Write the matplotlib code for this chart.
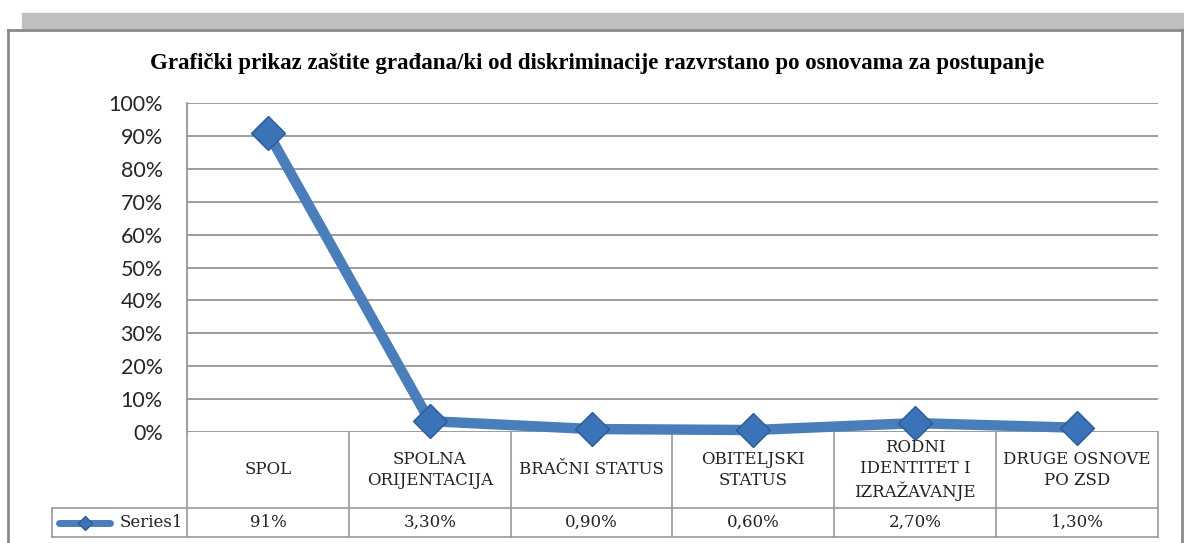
import numpy as np
import matplotlib.pyplot as plt
from matplotlib.lines import Line2D
from matplotlib.patches import Rectangle

# data
categories = ["SPOL", "SPOLNA\nORIJENTACIJA", "BRAČNI STATUS", "OBITELJSKI\nSTATUS",
              "RODNI\nIDENTITET I\nIZRAŽAVANJE", "DRUGE OSNOVE\nPO ZSD"]
values = [0.91, 0.033, 0.009, 0.006, 0.027, 0.013]
value_labels = ["91%", "3,30%", "0,90%", "0,60%", "2,70%", "1,30%"]
series_name = "Series1"
title = "Grafički prikaz zaštite građana/ki od diskriminacije razvrstano po osnovama za postupanje"

W, H = 1184, 543
fig = plt.figure(figsize=(W / 100, H / 100), dpi=100)

def fx(px):
    return px / W

def fy(py):
    return 1 - py / H

# outer frame (gray bar + border)
fig.patches.append(Rectangle((fx(22), fy(30)), fx(1184) - fx(22), fy(13) - fy(30),
                             transform=fig.transFigure, color="#bfbfbf", zorder=0))
frame_col = "#8a8a8a"
for xs, ys in [((8, 8), (30, 543)), ((8, 1183), (30, 30)), ((1182, 1182), (30, 543))]:
    fig.add_artist(Line2D([fx(x) for x in xs], [fy(y) for y in ys], color=frame_col, lw=2,
                          transform=fig.transFigure))

fig.text(fx(597), fy(63), title, ha="center", va="center", fontsize=16.5,
         fontweight="bold", family="Liberation Serif")

# plot area
ax = fig.add_axes([fx(187), fy(432), fx(1158) - fx(187), fy(103) - fy(432)])
x = np.arange(len(categories))
ax.set_xlim(-0.5, len(categories) - 0.5)
ax.set_ylim(0, 1)
ax.set_yticks(np.arange(0, 1.01, 0.1))
ax.set_yticklabels([f"{int(round(t * 100))}%" for t in np.arange(0, 1.01, 0.1)],
                   family="Lato", fontsize=15.5, color="#262626")
ax.tick_params(axis="y", length=0, pad=17.5)
ax.set_xticks([])
ax.grid(axis="y", color="#8c8c8c", lw=1.2)
for s in ["top", "right", "bottom"]:
    ax.spines[s].set_visible(False)
ax.spines["left"].set_color("#8c8c8c")
ax.spines["left"].set_linewidth(1.2)

line_col = "#4a7ebb"
ax.plot(x, values, color=line_col, lw=7.5, solid_capstyle="butt", zorder=3, clip_on=False)
ax.plot(x, values, ls="none", marker="D", ms=17, mfc="#3b73b9", mec="#2b5b97", mew=1,
        zorder=4, clip_on=False)

# data table under the plot
tr = ax.get_xaxis_transform()
grid_col = "#9a9a9a"
unit = 971 / 6
row1 = -76 / 329
row2 = -105 / 329
key_left = -0.5 - 135 / unit
tbl = dict(color=grid_col, lw=1.2, transform=tr, clip_on=False)
for b in np.arange(-0.5, len(categories), 1.0):
    ax.add_line(Line2D([b, b], [0, row2], **tbl))
ax.add_line(Line2D([key_left, len(categories) - 0.5], [row1, row1], **tbl))
ax.add_line(Line2D([key_left, len(categories) - 0.5], [row2, row2], **tbl))
ax.add_line(Line2D([key_left, key_left], [row1, row2], **tbl))

for i, (c, v) in enumerate(zip(categories, value_labels)):
    ax.text(i, row1 / 2, c, transform=tr, ha="center", va="center", fontsize=12,
            family="DejaVu Serif", color="#222222", linespacing=1.3, clip_on=False)
    ax.text(i, (row1 + row2) / 2, v, transform=tr, ha="center", va="center",
            fontsize=12, family="DejaVu Serif", color="#222222", clip_on=False)

# legend key in the table
ky = (row1 + row2) / 2
kx0 = key_left + 7 / unit
kx1 = key_left + 58 / unit
ax.add_line(Line2D([kx0, kx1], [ky, ky], color=line_col, lw=5, transform=tr,
                   clip_on=False, solid_capstyle="round"))
ax.add_line(Line2D([(kx0 + kx1) / 2], [ky], marker="D", ms=7, mfc="#3b73b9",
                   mec="#2b5b97", transform=tr, clip_on=False))
ax.text(-0.5 - 4 / unit, ky, series_name, transform=tr, ha="right", va="center",
        fontsize=12, family="DejaVu Serif", color="#222222", clip_on=False)

fig.savefig("out.png", dpi=100)
